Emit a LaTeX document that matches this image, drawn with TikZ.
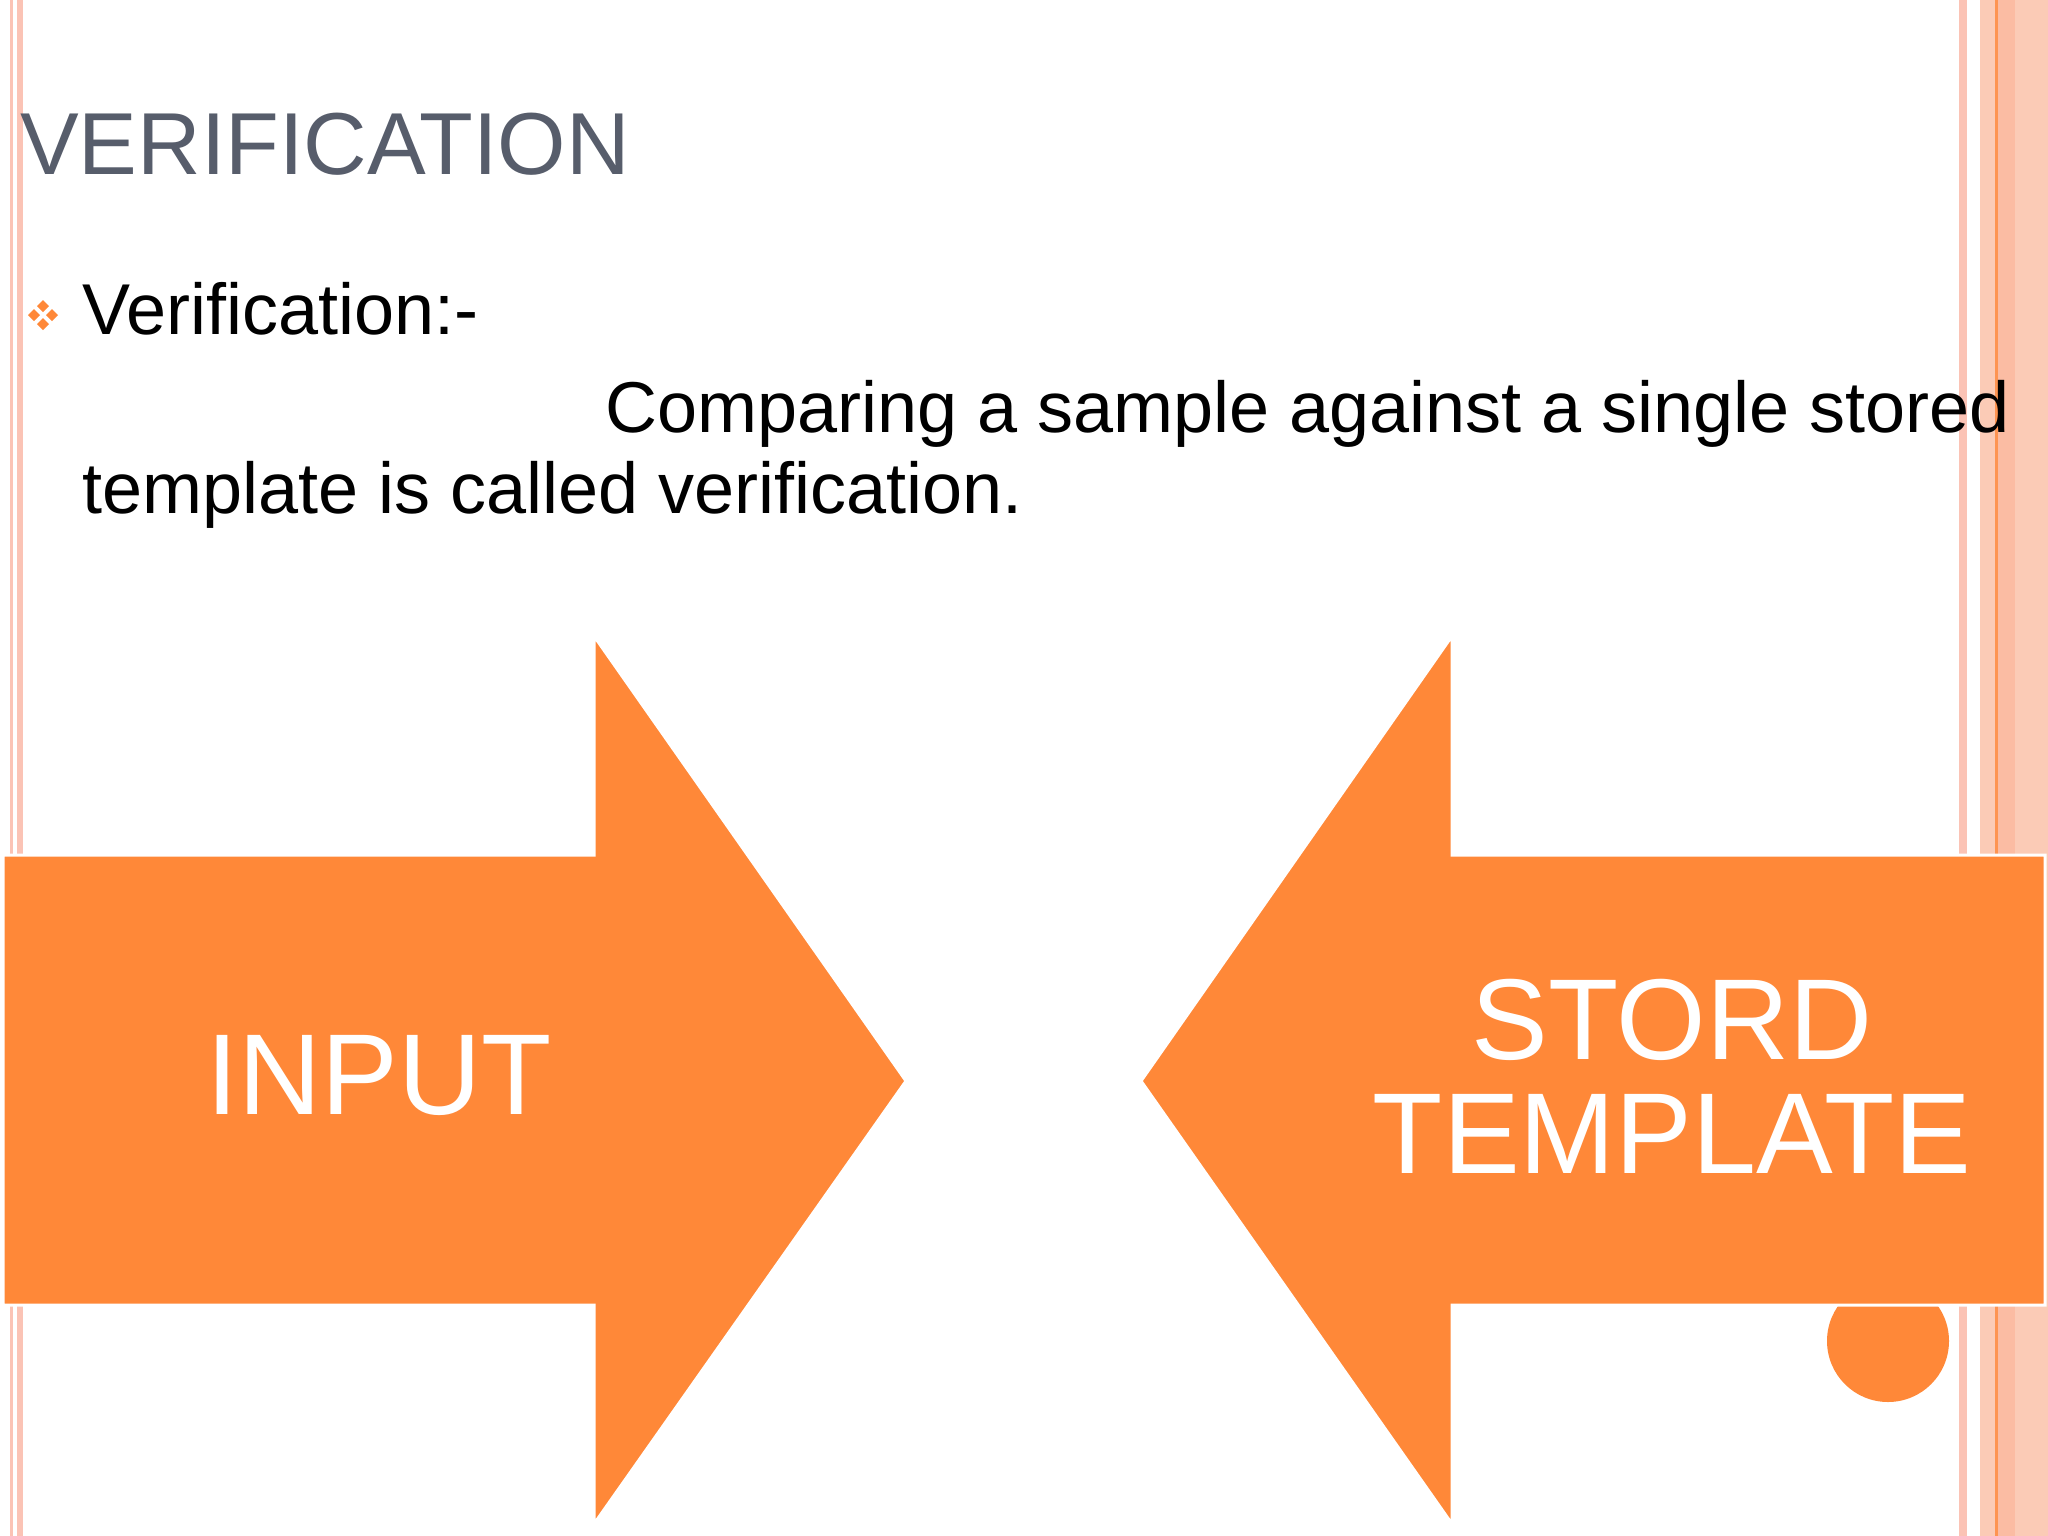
\documentclass[tikz,border=0pt]{standalone}
\usepackage{fontspec}
\setmainfont{Liberation Sans}
\definecolor{org}{HTML}{FF8838}
\definecolor{pk}{HTML}{FBC3B5}
\definecolor{pch}{HTML}{FBCBB6}
\definecolor{ttl}{HTML}{575D6B}
\begin{document}
\begin{tikzpicture}[x=1pt,y=-1pt,
  arr/.style={fill=org,draw=white,line width=3pt,line join=miter},
  big/.style={font=\fontsize{115}{128}\selectfont,text=white,align=center}]
\useasboundingbox (0,0) rectangle (2048,1536);
\fill[white] (0,0) rectangle (2048,1536);
% stripes
\fill[pk] (10,0) rectangle (13,1536);
\fill[pk] (17,0) rectangle (23,1536);
\fill[pk] (1959,0) rectangle (1967,1536);
\fill[pch] (1980,0) rectangle (2048,1536);
\fill[pk!90!orange] (1996,0) rectangle (2015,1536);
\fill[org!80!pk] (1995,0) rectangle (1998,1536);
% circle
\fill[org] (1888,1341) circle (61);
% title
\node[anchor=base west,inner sep=0,text=ttl,font=\fontsize{88}{100}\selectfont] (title) at (20,175) {VERIFICATION};
% bullet
\foreach \dx/\dy in {0/-9,0/9,-9/0,9/0}
  \fill[org] (43+\dx,315+\dy) +(0,-6) -- +(6,0) -- +(0,6) -- +(-6,0) -- cycle;
\node[anchor=base west,inner sep=0,font=\fontsize{72}{80}\selectfont] (l1) at (82,334) {Verification:-};
\node[anchor=base west,inner sep=0,font=\fontsize{72}{80}\selectfont] (l2) at (605,432) {Comparing a sample against a single stored};
\node[anchor=base west,inner sep=0,font=\fontsize{72}{80}\selectfont] (l3) at (82,513) {template is called verification.};
% arrows
\draw[arr] (3,855) -- (594,855) -- (594,636) -- (906,1081) -- (594,1524) -- (594,1305) -- (3,1305) -- cycle;
\draw[arr] (2045,855) -- (1452,855) -- (1452,636) -- (1141,1081) -- (1452,1524) -- (1452,1305) -- (2045,1305) -- cycle;
\node[big] (inp) at (379,1075) {INPUT};
\node[big] (st) at (1672,1076) {STORD\\[-14pt]TEMPLATE};
\end{tikzpicture}
\end{document}
